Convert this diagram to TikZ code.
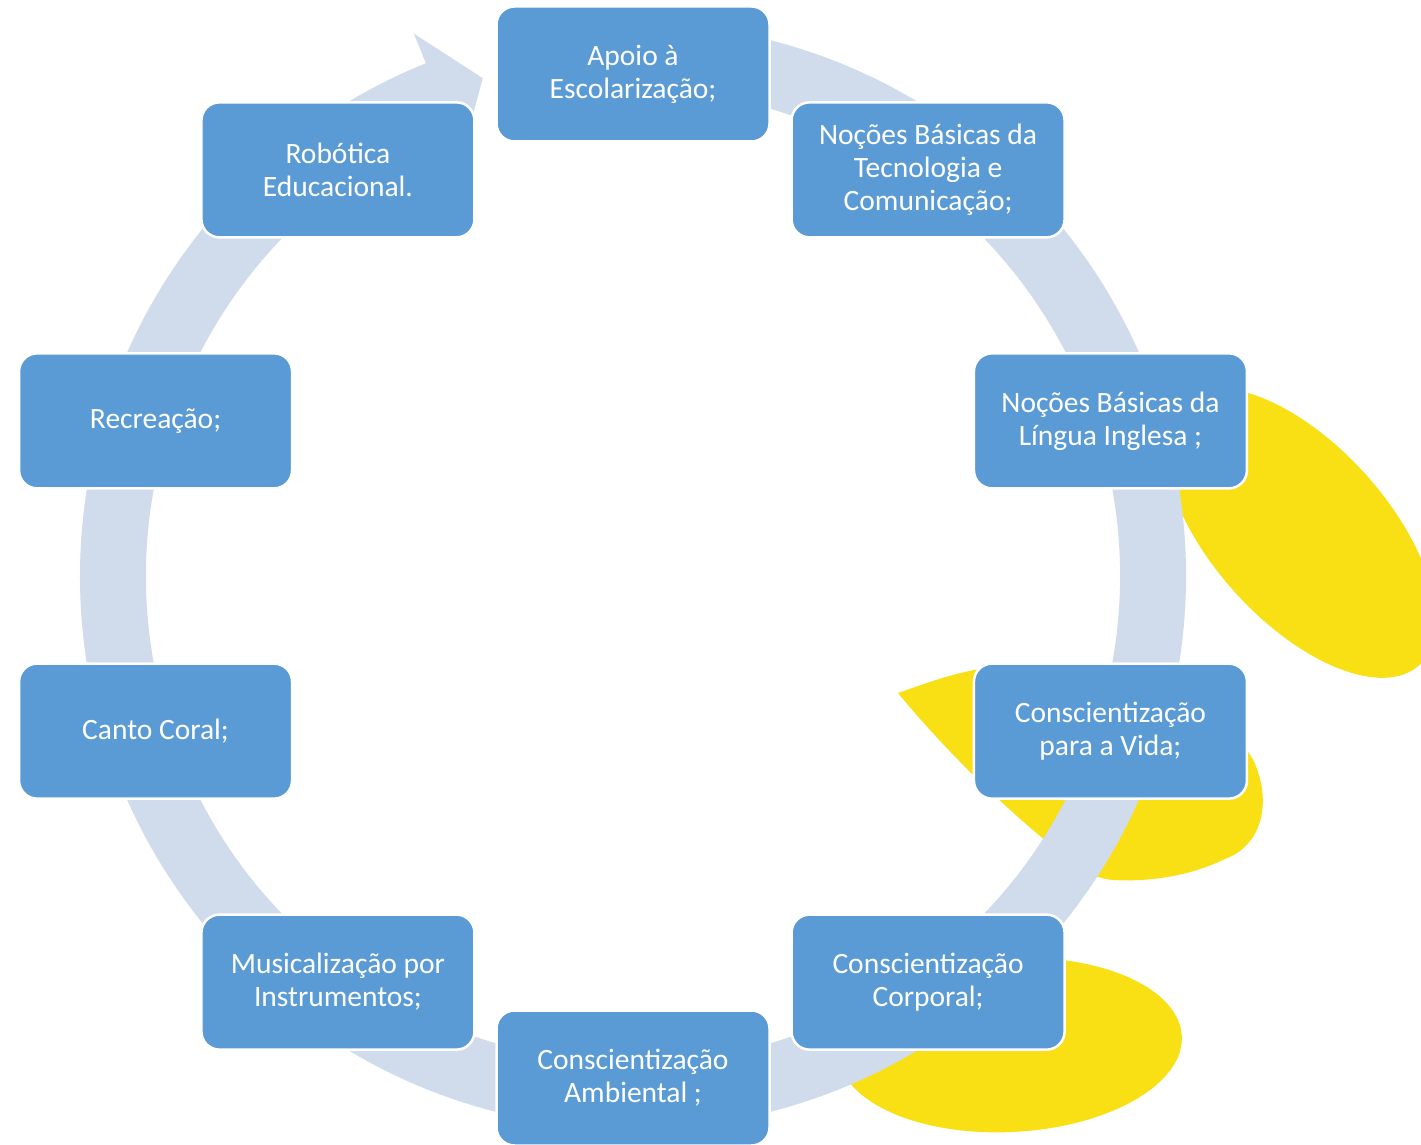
\documentclass[tikz,border=0pt]{standalone}
\usepackage{fontspec}
\setmainfont{Carlito}
\definecolor{boxblue}{RGB}{91,155,213}
\definecolor{ringblue}{RGB}{208,219,236}
\definecolor{blobyellow}{RGB}{249,224,20}
\begin{document}
\begin{tikzpicture}[x=1pt,y=1pt,
  stepbox/.style={draw=white, line width=2.5pt, fill=boxblue, rounded corners=18pt,
    minimum width=273pt, minimum height=135pt, text=white, align=center,
    font=\fontsize{29.5}{33}\selectfont, inner sep=0pt},
  blob/.style={fill=blobyellow},
  ringshape/.style={fill=ringblue}]
\useasboundingbox (0,0) rectangle (1421,1144);
\clip (0,0) rectangle (1421,1144);
\fill[white] (0,0) rectangle (1421,1144);
% yellow blobs
\fill[blob, rotate around={-48:(1300,611)}] (1300,611) ellipse[x radius=178, y radius=88];
\fill[blob] (898,451) .. controls (930,462) and (950,470) .. (985,476)
  .. controls (1110,474) and (1235,430) .. (1255,380)
  .. controls (1270,345) and (1265,300) .. (1225,285)
  .. controls (1190,268) and (1150,262) .. (1113,264)
  .. controls (1085,266) and (1060,290) .. (1040,308)
  .. controls (990,350) and (940,400) .. (898,451) -- cycle;
\fill[blob, rotate around={3:(1010,99)}] (1010,99) ellipse[x radius=172, y radius=87];
\begin{scope}[shift={(633,568)}]
% circular arrow
\fill[ringshape] (88:553) arc[start angle=88, end angle=-248, radius=553]
  -- (-248:585) -- (-253.2:520) -- (-248:455) -- (-248:487)
  arc[start angle=-248, end angle=88, radius=487] -- cycle;
% boxes
\node[stepbox] (b1) at (90:502) {Apoio à\\Escolarização;};
\node[stepbox] (b2) at (54:502) {Noções Básicas da\\Tecnologia e\\Comunicação;};
\node[stepbox] (b3) at (18:502) {Noções Básicas da\\Língua Inglesa ;};
\node[stepbox] (b4) at (-18:502) {Conscientização\\para a Vida;};
\node[stepbox] (b5) at (-54:502) {Conscientização\\Corporal;};
\node[stepbox] (b6) at (-90:502) {Conscientização\\Ambiental ;};
\node[stepbox] (b7) at (-126:502) {Musicalização por\\Instrumentos;};
\node[stepbox] (b8) at (-162:502) {Canto Coral;};
\node[stepbox] (b9) at (162:502) {Recreação;};
\node[stepbox] (b10) at (126:502) {Robótica\\Educacional.};
\end{scope}
\end{tikzpicture}
\end{document}
